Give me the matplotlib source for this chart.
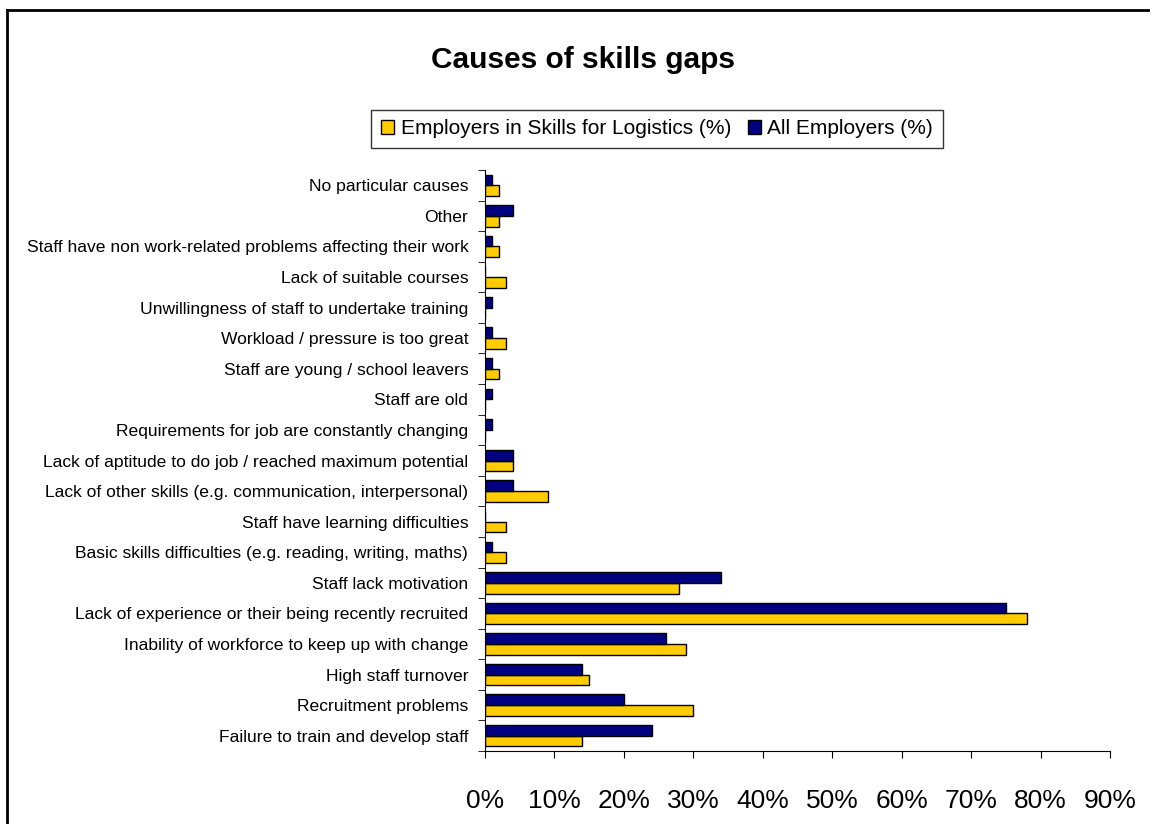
import numpy as np
import matplotlib
matplotlib.use('Agg')
import matplotlib.pyplot as plt
from matplotlib.lines import Line2D
from matplotlib.ticker import FixedLocator, PercentFormatter

plt.rcParams['font.family'] = ['Liberation Sans', 'DejaVu Sans']

# bottom to top, as drawn
causes = [
    'Failure to train and develop staff',
    'Recruitment problems',
    'High staff turnover',
    'Inability of workforce to keep up with change',
    'Lack of experience or their being recently recruited',
    'Staff lack motivation',
    'Basic skills difficulties (e.g. reading, writing, maths)',
    'Staff have learning difficulties',
    'Lack of other skills (e.g. communication, interpersonal)',
    'Lack of aptitude to do job / reached maximum potential',
    'Requirements for job are constantly changing',
    'Staff are old',
    'Staff are young / school leavers',
    'Workload / pressure is too great',
    'Unwillingness of staff to undertake training',
    'Lack of suitable courses',
    'Staff have non work-related problems affecting their work',
    'Other',
    'No particular causes',
]
logistics = [14, 30, 15, 29, 78, 28, 3, 3, 9, 4, 0, 0, 2, 3, 0, 3, 2, 2, 2]
all_employers = [24, 20, 14, 26, 75, 34, 1, 0, 4, 4, 1, 1, 1, 1, 1, 0, 1, 4, 1]

yellow = '#FFCC00'
navy = '#000080'

fig = plt.figure(figsize=(11.5, 8.24), dpi=100)
ax = fig.add_axes([485 / 1150, 1 - 751 / 824, 625 / 1150, 581 / 824])

y = np.arange(len(causes))
h = 0.35
ax.barh(y - h / 2, logistics, height=h, color=yellow, edgecolor='black',
        linewidth=1, label='Employers in Skills for Logistics (%)')
ax.barh(y + h / 2, all_employers, height=h, color=navy, edgecolor='black',
        linewidth=1, label='All Employers (%)')

ax.set_xlim(0, 90)
ax.set_ylim(-0.5, len(causes) - 0.5)
ax.set_xticks(np.arange(0, 91, 10))
ax.xaxis.set_major_formatter(PercentFormatter(decimals=0))
ax.tick_params(axis='x', direction='out', length=5, pad=22, labelsize=19)

ax.set_yticks(y)
ax.set_yticklabels(causes, fontsize=12.6)
ax.tick_params(axis='y', which='major', length=0, pad=12)
ax.yaxis.set_minor_locator(FixedLocator(np.arange(-0.5, len(causes), 1)))
ax.tick_params(axis='y', which='minor', direction='out', length=5)

for s in ['top', 'right']:
    ax.spines[s].set_visible(False)

fig.text(583 / 1150, 1 - 60 / 824, 'Causes of skills gaps', fontsize=21.5,
         fontweight='bold', ha='center', va='center')

handles, labels = ax.get_legend_handles_labels()
leg = fig.legend(handles, labels, loc='center', ncol=2,
                 bbox_to_anchor=(657 / 1150, 1 - 129 / 824), fontsize=15,
                 frameon=True, fancybox=False, edgecolor='black',
                 handlelength=0.65, handleheight=0.65, handletextpad=0.3,
                 columnspacing=0.8, borderpad=0.45)
leg.get_frame().set_linewidth(1)

# outer frame of the chart area
fig.add_artist(Line2D([7 / 1150, 7 / 1150], [0, 1 - 10 / 824],
                      transform=fig.transFigure, color='black', lw=2))
fig.add_artist(Line2D([7 / 1150, 1], [1 - 10 / 824, 1 - 10 / 824],
                      transform=fig.transFigure, color='black', lw=2))

fig.savefig('out.png', dpi=100)
